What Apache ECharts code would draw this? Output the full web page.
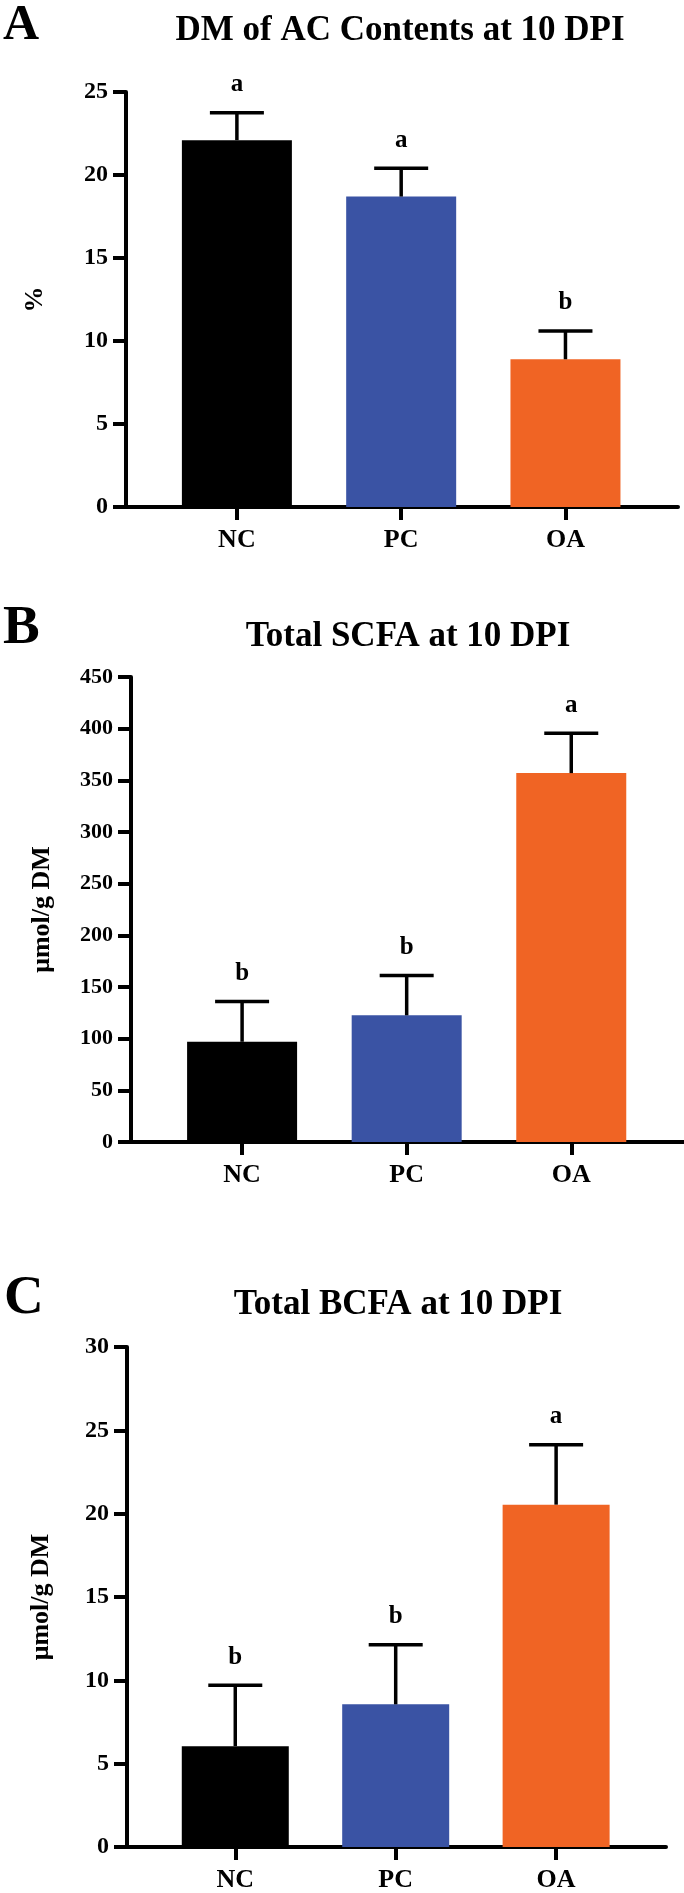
<!DOCTYPE html>
<html>
<head>
<meta charset="utf-8">
<script src="https://cdn.jsdelivr.net/npm/echarts@6/dist/echarts.min.js"></script>
<style>
  html, body { margin: 0; padding: 0; background: #fff; }
  #chart { width: 684px; height: 1893px; }
</style>
</head>
<body>
<div id="chart"></div>
<script>
// ---------- data ----------
const categories = ['NC', 'PC', 'OA'];

const dmTitle = 'DM of AC Contents at 10 DPI';
const dmYName = '%';
const dmMean = [22.1, 18.7, 8.9];
const dmErr = [1.65, 1.7, 1.7];
const dmLetters = ['a', 'a', 'b'];
const dmTicks = { min: 0, max: 25, interval: 5 };

const scfaTitle = 'Total SCFA at 10 DPI';
const scfaYName = 'μmol/g DM';
const scfaMean = [97, 122.6, 357];
const scfaErr = [39, 38.5, 38.5];
const scfaLetters = ['b', 'b', 'a'];
const scfaTicks = { min: 0, max: 450, interval: 50 };

const bcfaTitle = 'Total BCFA at 10 DPI';
const bcfaYName = 'μmol/g DM';
const bcfaMean = [6.05, 8.56, 20.54];
const bcfaErr = [3.66, 3.57, 3.6];
const bcfaLetters = ['b', 'b', 'a'];
const bcfaTicks = { min: 0, max: 30, interval: 5 };

const panelLetters = ['A', 'B', 'C'];

// ---------- styles / layout ----------
const barColors = ['#000000', '#3A53A4', '#F06424'];
const FONT = "'Liberation Serif', Tinos, 'Times New Roman', Times, 'DejaVu Serif', serif";
const X_MIN = -0.675, X_MAX = 2.685;

const panels = [
  { title: dmTitle, yName: dmYName, mean: dmMean, err: dmErr, letters: dmLetters, ticks: dmTicks,
    grid: { left: 126, top: 92, width: 552, height: 415 }, barWidth: 110, tickFont: 24, nameGap: 78,
    titleX: 400, titleBase: 43, letterX: 3, letterBase: 43, letterSize: 50 },
  { title: scfaTitle, yName: scfaYName, mean: scfaMean, err: scfaErr, letters: scfaLetters, ticks: scfaTicks,
    grid: { left: 131, top: 677, width: 553, height: 465 }, barWidth: 110, tickFont: 22, nameGap: 76,
    titleX: 408, titleBase: 649, letterX: 3, letterBase: 647, letterSize: 55 },
  { title: bcfaTitle, yName: bcfaYName, mean: bcfaMean, err: bcfaErr, letters: bcfaLetters, ticks: bcfaTicks,
    grid: { left: 127, top: 1347, width: 539, height: 500 }, barWidth: 107, tickFont: 24, nameGap: 73,
    titleX: 398, titleBase: 1317, letterX: 4, letterBase: 1317, letterSize: 55 }
];

const grids = [], xAxes = [], yAxes = [], series = [], graphics = [];

panels.forEach((p, k) => {
  grids.push(Object.assign({ outerBoundsMode: 'none', containLabel: false }, p.grid));

  xAxes.push({
    type: 'value', gridIndex: k, min: X_MIN, max: X_MAX,
    axisLine: { show: true, onZero: false, lineStyle: { color: '#000', width: 4 } },
    axisTick: { show: true, customValues: [0, 1, 2], length: 13, lineStyle: { color: '#000', width: 4 } },
    axisLabel: {
      customValues: [0, 1, 2], margin: 20,
      formatter: v => categories[Math.round(v)] || '',
      color: '#000', fontFamily: FONT, fontWeight: 'bold', fontSize: 26
    },
    splitLine: { show: false }
  });

  yAxes.push({
    type: 'value', gridIndex: k,
    min: p.ticks.min, max: p.ticks.max, interval: p.ticks.interval,
    name: p.yName, nameLocation: 'middle', nameRotate: 90, nameGap: p.nameGap,
    nameTextStyle: { color: '#000', fontFamily: FONT, fontWeight: 'bold', fontSize: 26 },
    axisLine: { show: true, onZero: false, lineStyle: { color: '#000', width: 4 } },
    axisTick: { show: true, length: 13, lineStyle: { color: '#000', width: 4 } },
    axisLabel: { margin: 18, color: '#000', fontFamily: FONT, fontWeight: 'bold', fontSize: p.tickFont },
    splitLine: { show: false }
  });

  series.push({
    type: 'bar', xAxisIndex: k, yAxisIndex: k, barWidth: p.barWidth,
    data: categories.map((c, i) => ({ value: [i, p.mean[i]], itemStyle: { color: barColors[i] } })),
    silent: true, z: 2
  });

  series.push({
    type: 'custom', xAxisIndex: k, yAxisIndex: k, z: 5, silent: true,
    data: categories.map((c, i) => [i, p.mean[i], p.err[i]]),
    renderItem: (params, api) => {
      const i = api.value(0), m = api.value(1), e = api.value(2);
      const base = api.coord([i, m]);
      const hi = api.coord([i, m + e]);
      const x = base[0];
      const half = 27;
      return {
        type: 'group',
        children: [
          { type: 'line', shape: { x1: x, y1: base[1], x2: x, y2: hi[1] }, style: { stroke: '#000', lineWidth: 3.5 } },
          { type: 'line', shape: { x1: x - half, y1: hi[1], x2: x + half, y2: hi[1] }, style: { stroke: '#000', lineWidth: 3.5 } },
          { type: 'text', x: x, y: hi[1] - 28,
            style: { text: p.letters[params.dataIndex], fill: '#000', fontFamily: FONT, fontWeight: 'bold', fontSize: 25,
                     align: 'center', verticalAlign: 'middle' } }
        ]
      };
    }
  });

  graphics.push({
    type: 'text', x: p.titleX, y: p.titleBase - 0.34 * 35,
    style: { text: p.title, fill: '#000', fontFamily: FONT, fontWeight: 'bold', fontSize: 35, textAlign: 'center', textVerticalAlign: 'middle' }
  });
  graphics.push({
    type: 'text', x: p.letterX, y: p.letterBase - 0.34 * p.letterSize,
    style: { text: panelLetters[k], fill: '#000', fontFamily: FONT, fontWeight: 'bold', fontSize: p.letterSize, textAlign: 'left', textVerticalAlign: 'middle' }
  });
});

const chart = echarts.init(document.getElementById('chart'), null, { renderer: 'canvas' });
chart.setOption({
  backgroundColor: '#ffffff',
  animation: false,
  grid: grids,
  xAxis: xAxes,
  yAxis: yAxes,
  series: series,
  graphic: graphics
});
</script>
</body>
</html>
